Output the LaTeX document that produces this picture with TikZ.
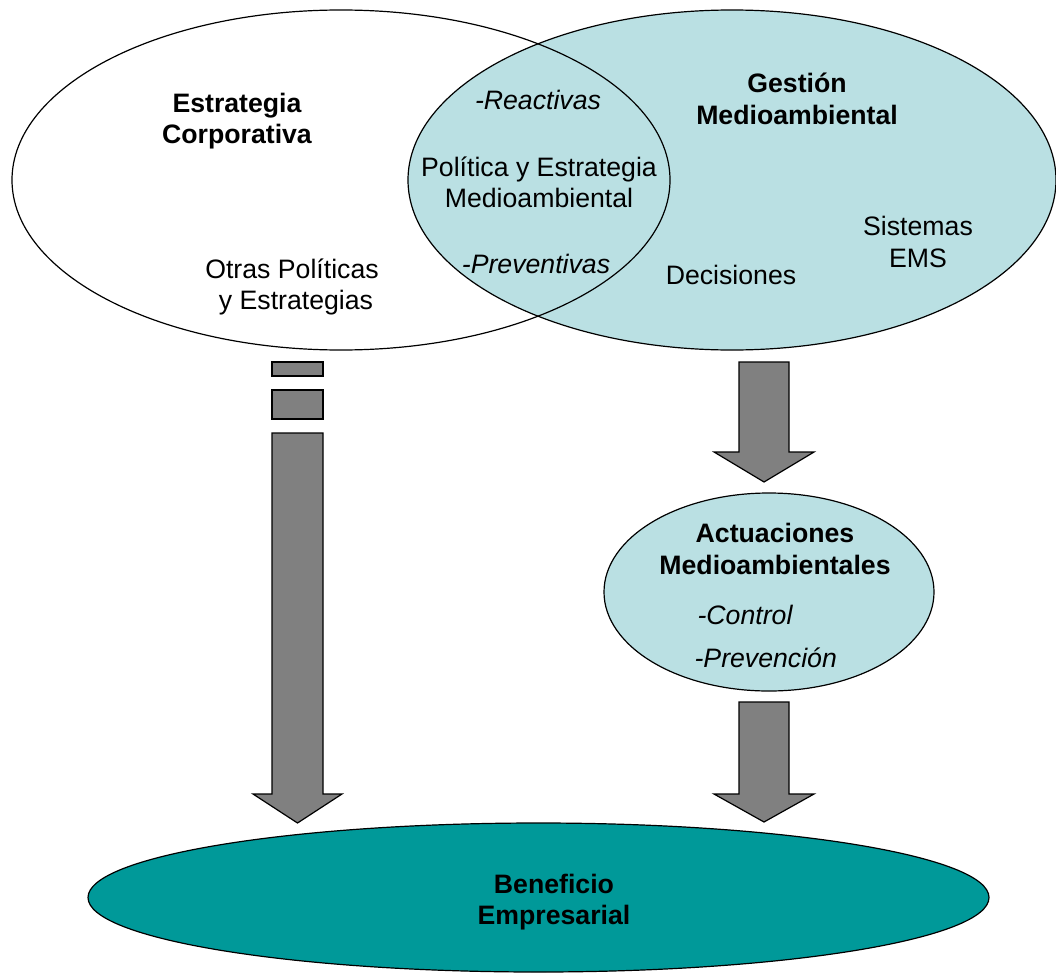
\documentclass[tikz,border=0pt]{standalone}
\usepackage{fontspec}
\setmainfont{Liberation Sans}
\definecolor{paleblue}{HTML}{BAE0E3}
\definecolor{tealfill}{HTML}{009999}
\definecolor{arrowgray}{HTML}{808080}
\begin{document}
\begin{tikzpicture}[x=0.75pt,y=-0.75pt,line width=0.9pt,
  txt/.style={font=\fontsize{20}{23.5}\selectfont,align=center,inner sep=0pt},
  bold/.style={txt,font=\fontsize{20}{23.5}\selectfont\bfseries},
  ital/.style={txt,font=\fontsize{20}{23.5}\selectfont\itshape},
  blockarrow/.style={fill=arrowgray,draw=black,line width=0.9pt,line join=miter},
  shape outline/.style={draw=black,line width=0.9pt}]
\useasboundingbox (0,0) rectangle (1056,974);

% Venn pair: corporate strategy (left) and environmental management (right)
\fill[paleblue] (732,180) ellipse [x radius=324,y radius=170];
\fill[white] (341,180) ellipse [x radius=329,y radius=170];
\begin{scope}
  \clip (732,180) ellipse [x radius=324,y radius=170];
  \fill[paleblue] (341,180) ellipse [x radius=329,y radius=170];
\end{scope}
\draw[shape outline] (732,180) ellipse [x radius=324,y radius=170];
\draw[shape outline] (341,180) ellipse [x radius=329,y radius=170];

% broken column under "Otras Políticas"
\draw[blockarrow] (272,362) rectangle (323,376);
\draw[blockarrow] (272,390) rectangle (323,419);
\draw[blockarrow] (272,433) -- (323,433) -- (323,794) -- (342,794) -- (297.5,823)
  -- (253,794) -- (272,794) -- cycle;

% arrows on the right branch
\draw[blockarrow] (739,362) -- (789,362) -- (789,452) -- (814,452) -- (764,482)
  -- (714,452) -- (739,452) -- cycle;
\draw[blockarrow] (739,702) -- (789,702) -- (789,794) -- (814,794) -- (764,822)
  -- (714,794) -- (739,794) -- cycle;

% environmental actions
\draw[shape outline,fill=paleblue] (769,592) ellipse [x radius=165,y radius=99];

% business benefit
\draw[shape outline,fill=tealfill] (538.5,897.5) ellipse [x radius=450.5,y radius=74.5];

% labels
\node[bold] (corp) at (237,121) {Estrategia\\Corporativa};
\node[txt] (otras) at (292,287) {Otras Políticas\\\hspace*{0.3em}y Estrategias};
\node[ital] (reac) at (538,100) {-Reactivas};
\node[txt] (pol) at (539,182) {Política y Estrategia\\Medioambiental};
\node[ital] (prev) at (536,264) {-Preventivas};
\node[bold] (gest) at (797,99) {Gestión\\Medioambiental};
\node[txt] (dec) at (731,275) {Decisiones};
\node[txt] (sis) at (918,242) {Sistemas\\EMS};
\node[bold] (act) at (775,549) {Actuaciones\\Medioambientales};
\node[ital,anchor=west] (ctrl) at (697,615) {-Control};
\node[ital,anchor=west] (prevn) at (694,658) {-Prevención};
\node[bold] (ben) at (554,902) {Beneficio\\Empresarial};
\end{tikzpicture}
\end{document}
